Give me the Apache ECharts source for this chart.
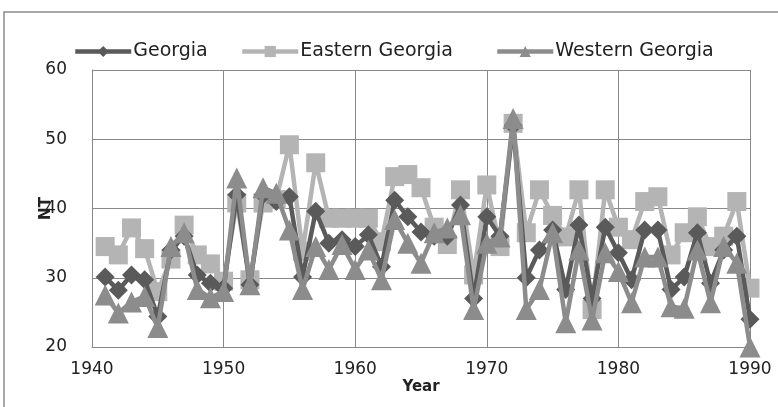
<!DOCTYPE html>
<html><head><meta charset="utf-8">
<script src="https://cdn.jsdelivr.net/npm/echarts@6/dist/echarts.min.js"></script>
<style>html,body{margin:0;padding:0;background:#fff}#c{width:778px;height:407px}</style>
</head><body><div id="c"></div>
<script>
const years = [1941,1942,1943,1944,1945,1946,1947,1948,1949,1950,1951,1952,1953,1954,1955,1956,1957,1958,1959,1960,1961,1962,1963,1964,1965,1966,1967,1968,1969,1970,1971,1972,1973,1974,1975,1976,1977,1978,1979,1980,1981,1982,1983,1984,1985,1986,1987,1988,1989,1990];
const georgia = [30.1,28.2,30.4,29.7,24.4,34,36,30.4,29.2,28.5,42,29,42,41,41.7,30.1,39.6,35,35.5,34.5,36.2,31.6,41.2,38.8,36.6,36,36,40.5,27,38.8,36,52,30,34,36.9,28.3,37.6,27,37.3,33.6,29.7,36.9,36.9,28.3,30.1,36.5,29.2,34,36,24];
const eastern = [34.5,33.3,37.2,34.2,28,32.7,37.6,33.3,32,29.5,40.8,29.7,40.8,41.3,49.2,33.8,46.6,38.6,38.6,38.6,38.6,35.2,44.6,44.9,43,37.3,34.8,42.7,30.4,43.4,34.5,52.3,36.5,42.7,39,35.9,42.7,25.4,42.7,37.3,35.5,41,41.7,33.3,36.5,38.8,34.5,36,41,28.5];
const western = [27.5,24.9,26.5,27.3,22.8,34.5,36.5,28.3,27.1,28,44.4,29,43,42.2,36.9,28.3,34.5,31.2,34.8,31.2,34,29.7,38.4,35,32.1,36.5,37.2,39.1,25.4,35,35.9,53,25.4,28.3,36.5,23.5,34,23.9,33.6,30.9,26.4,33,33,25.8,25.6,34,26.4,34.5,32.1,20];
const seriesNames = ['Georgia','Eastern Georgia','Western Georgia'];
const xTicks = [1940,1950,1960,1970,1980,1990];
const yTicks = [20,30,40,50,60];

const pair = arr => years.map((y,i)=>[y,arr[i]]);
const chart = echarts.init(document.getElementById('c'));
const font = 'DejaVu Sans';
const legendLeft = [68, 235, 490];
const mkLegend = (name,i) => ({top:37,left:legendLeft[i],itemWidth:56,itemHeight:14,
    lineStyle:{width:4.5},
    textStyle:{fontFamily:font,fontSize:19,color:'#222',padding:[0,0,0,-3]},
    data:[name]});
chart.setOption({
  animation:false,
  backgroundColor:'#fff',
  graphic:[{type:'rect',shape:{x:4,y:12,width:800,height:420},style:{fill:'none',stroke:'#8a8a8a',lineWidth:1.5},z:-1}],
  legend: seriesNames.map(mkLegend),
  grid:{left:92,right:28,top:70,bottom:60},
  xAxis:{type:'value',min:xTicks[0],max:xTicks[xTicks.length-1],interval:10,name:'Year',nameLocation:'middle',nameGap:33,
    nameMoveOverlap:false,
    nameTextStyle:{fontFamily:font,fontSize:15,fontWeight:'bold',color:'#222'},
    axisLine:{lineStyle:{color:'#888'}},axisTick:{show:false},
    splitLine:{show:true,lineStyle:{color:'#888',width:1}},
    axisLabel:{fontFamily:font,fontSize:17,color:'#222',margin:14,formatter:v=>String(v)}},
  yAxis:{type:'value',min:yTicks[0],max:yTicks[yTicks.length-1],interval:10,name:'NT',nameLocation:'middle',nameGap:38,nameRotate:90,
    nameMoveOverlap:false,
    nameTextStyle:{fontFamily:font,fontSize:15,fontWeight:'bold',color:'#222'},
    axisLine:{show:true,lineStyle:{color:'#888'}},axisTick:{show:false},
    splitLine:{show:true,lineStyle:{color:'#888',width:1}},
    axisLabel:{fontFamily:font,fontSize:17,color:'#222',margin:25}},
  series:[
    {name:seriesNames[0],type:'line',data:pair(georgia),symbol:'diamond',symbolSize:19,
     lineStyle:{color:'#5a5a5a',width:4.5},itemStyle:{color:'#5a5a5a'},z:3},
    {name:seriesNames[1],type:'line',data:pair(eastern),symbol:'rect',symbolSize:19,
     lineStyle:{color:'#b4b4b4',width:4.5},itemStyle:{color:'#b4b4b4'},z:2},
    {name:seriesNames[2],type:'line',data:pair(western),symbol:'triangle',symbolSize:21,
     lineStyle:{color:'#8c8c8c',width:4.5},itemStyle:{color:'#8c8c8c'},z:4}
  ]
});
</script></body></html>
